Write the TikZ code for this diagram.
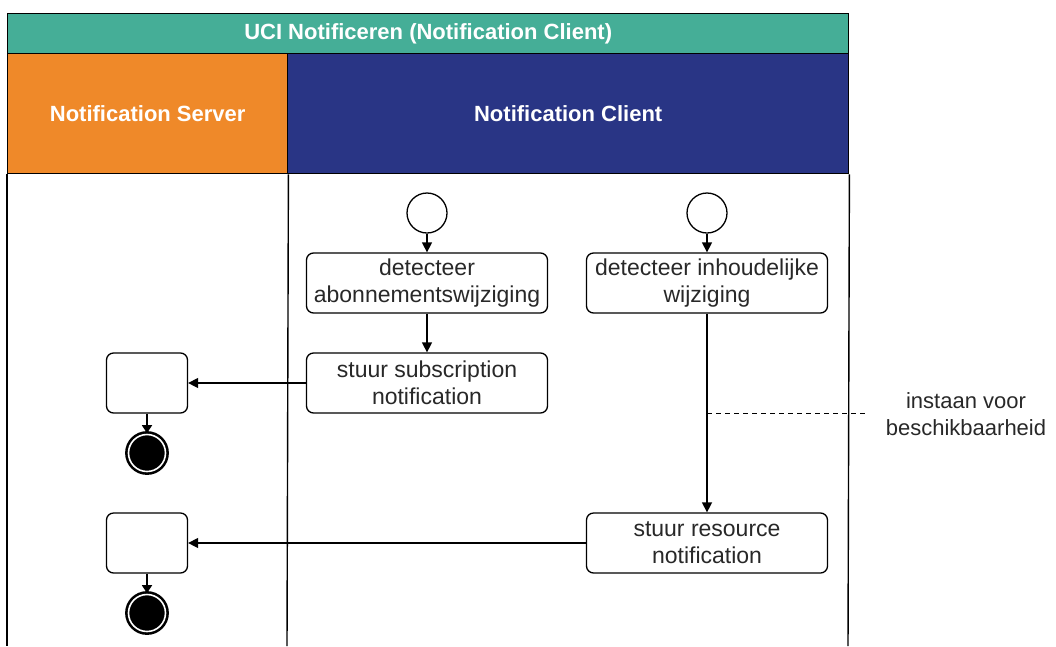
\documentclass[tikz,border=0pt]{standalone}
\usepackage{fontspec}
\setmainfont{Liberation Sans}
\usetikzlibrary{arrows.meta}
\definecolor{titleteal}{RGB}{69,174,151}
\definecolor{laneorange}{RGB}{239,137,41}
\definecolor{lanenavy}{RGB}{41,53,133}
\definecolor{txtgray}{RGB}{40,40,40}
\begin{document}
\begin{tikzpicture}[x=1pt,y=-1pt,
  hdr/.style={draw=black,line width=1.4pt,anchor=north west,inner sep=0pt,text=white,font=\fontsize{22}{26}\selectfont\bfseries},
  act/.style={draw,rounded corners=7pt,line width=1.3pt,minimum width=241pt,minimum height=60pt,align=center,inner sep=0pt,text=txtgray,font=\fontsize{23}{27}\selectfont},
  srv/.style={draw,rounded corners=7pt,line width=1.3pt,minimum width=81pt,minimum height=60pt,inner sep=0pt},
  startst/.style={circle,draw,line width=1.3pt,minimum size=40pt,inner sep=0pt,fill=white},
  endst/.style={circle,draw=black,fill=black,line width=2.6pt,double=white,double distance=1.6pt,minimum size=37pt,inner sep=0pt},
  arr/.style={line width=1.4pt,-{Triangle[length=10pt,width=10pt]}},
  lbl/.style={align=center,inner sep=0pt,text=txtgray,font=\fontsize{22}{27}\selectfont}]
\useasboundingbox (0,0) rectangle (1056,646);
% pool frame
\node[hdr,fill=titleteal,minimum width=841pt,minimum height=40pt] (title) at (7,13) {UCI Notificeren (Notification Client)};
\node[hdr,fill=laneorange,minimum width=280pt,minimum height=120pt] (laneS) at (7,53) {Notification Server};
\node[hdr,fill=lanenavy,minimum width=561pt,minimum height=120pt] (laneC) at (287,53) {Notification Client};
\draw[line width=1.4pt] (laneS.south west) -- (7,646);
\draw[line width=1.4pt] (laneS.south east) -- (287,646);
\draw[line width=1.4pt] (laneC.south east) -- (848,646);
% client lane
\node[startst] (st1) at (427,213) {};
\node[startst] (st2) at (707,213) {};
\node[act] (b1) at (427,283) {detecteer\\abonnementswijziging};
\node[act] (b2) at (427,383) {stuur subscription\\notification};
\node[act] (b3) at (707,283) {detecteer inhoudelijke\\wijziging};
\node[act] (b4) at (707,543) {stuur resource\\notification};
% server lane
\node[srv] (s1) at (147,383) {};
\node[srv] (s2) at (147,543) {};
\node[endst] (e1) at (147,453) {};
\node[endst] (e2) at (147,613) {};
% connectors
\draw[arr] (st1) -- (b1);
\draw[arr] (st2) -- (b3);
\draw[arr] (b1) -- (b2);
\draw[arr] (b3) -- (b4);
\draw[arr] (b2.west) -- (s1.east);
\draw[arr] (b4.west) -- (s2.east);
\draw[line width=1.4pt,-{Triangle[length=8pt,width=10pt]}] (s1) -- (e1);
\draw[line width=1.4pt,-{Triangle[length=8pt,width=10pt]}] (s2) -- (e2);
% annotation
\node[lbl] (note) at (966,414) {instaan voor\\beschikbaarheid};
\coordinate (dl) at (707,413);
\coordinate (dr) at (868,413);
\draw[line width=1pt,dash pattern=on 5pt off 4pt] (dl) -- (dr);
\end{tikzpicture}
\end{document}
